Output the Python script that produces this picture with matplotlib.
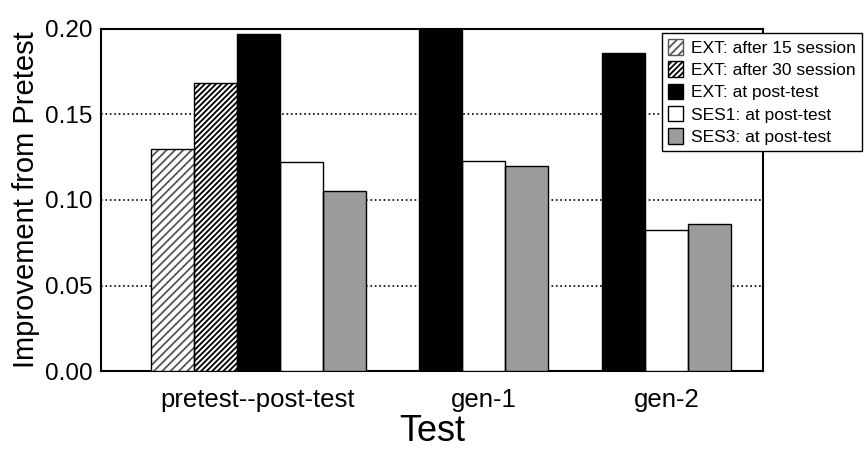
import matplotlib.pyplot as plt

plt.rcParams['font.family'] = ['Liberation Sans', 'DejaVu Sans']
plt.rcParams['hatch.linewidth'] = 1.3

groups = ['pretest--post-test', 'gen-1', 'gen-2']
series = ['EXT: after 15 session', 'EXT: after 30 session', 'EXT: at post-test',
          'SES1: at post-test', 'SES3: at post-test']

ext15 = [0.130, None, None]
ext30 = [0.168, None, None]
ext_post = [0.197, 0.199, 0.186]
ses1_post = [0.122, 0.123, 0.0825]
ses3_post = [0.105, 0.120, 0.086]

# group centres in bar-width units, bars side by side inside a group
centres = [0.0, 5.25, 9.5]
w = 1.0

fig = plt.figure(figsize=(8.64, 4.53), dpi=100)
ax = fig.add_axes([0.117, 0.18, 0.766, 0.757])

# hatch colour comes from edgecolor, so outline is drawn on top separately
styles = [
    dict(facecolor='white', edgecolor='#555555', hatch='////'),
    dict(facecolor='white', edgecolor='black', hatch='//////'),
    dict(facecolor='black', edgecolor='black'),
    dict(facecolor='white', edgecolor='black'),
    dict(facecolor='#9c9c9c', edgecolor='black'),
]
data = [ext15, ext30, ext_post, ses1_post, ses3_post]

for gi, c in enumerate(centres):
    present = [k for k in range(len(data)) if data[k][gi] is not None]
    n = len(present)
    for j, k in enumerate(present):
        x = c + (j - (n - 1) / 2) * w
        ax.bar(x, data[k][gi], width=w, linewidth=0, zorder=3, **styles[k])
        ax.bar(x, data[k][gi], width=w, fill=False, edgecolor='black',
               linewidth=1.0, zorder=4)

handles = []
for s in styles:
    h = plt.Rectangle((0, 0), 1, 1, linewidth=1.0, **s)
    handles.append(h)
leg = ax.legend(handles, series, loc='upper right', bbox_to_anchor=(0.998, 0.927),
                bbox_transform=fig.transFigure, fontsize=12.5, frameon=True,
                fancybox=False, framealpha=1, edgecolor='black',
                handlelength=0.85, handleheight=1.0, handletextpad=0.5,
                labelspacing=0.32, borderpad=0.35, borderaxespad=0)
leg.get_frame().set_linewidth(1.0)
leg.set_zorder(5)

ax.set_xlim(-3.65, 11.74)
ax.set_ylim(0, 0.20)
ax.set_yticks([0.00, 0.05, 0.10, 0.15, 0.20])
ax.set_yticklabels(['0.00', '0.05', '0.10', '0.15', '0.20'], fontsize=17.5)
ax.set_xticks(centres)
ax.set_xticklabels(groups, fontsize=18.5)
ax.tick_params(axis='y', length=0, pad=6)
ax.tick_params(axis='x', length=0, pad=12)
ax.yaxis.grid(True, linestyle=':', color='black', linewidth=1.2, zorder=0)
ax.set_axisbelow(True)
for s in ax.spines.values():
    s.set_linewidth(1.5)

ax.set_ylabel('Improvement from Pretest', fontsize=21, labelpad=4)
ax.set_xlabel('Test', fontsize=26, labelpad=1)

fig.savefig('out.png', dpi=100)
